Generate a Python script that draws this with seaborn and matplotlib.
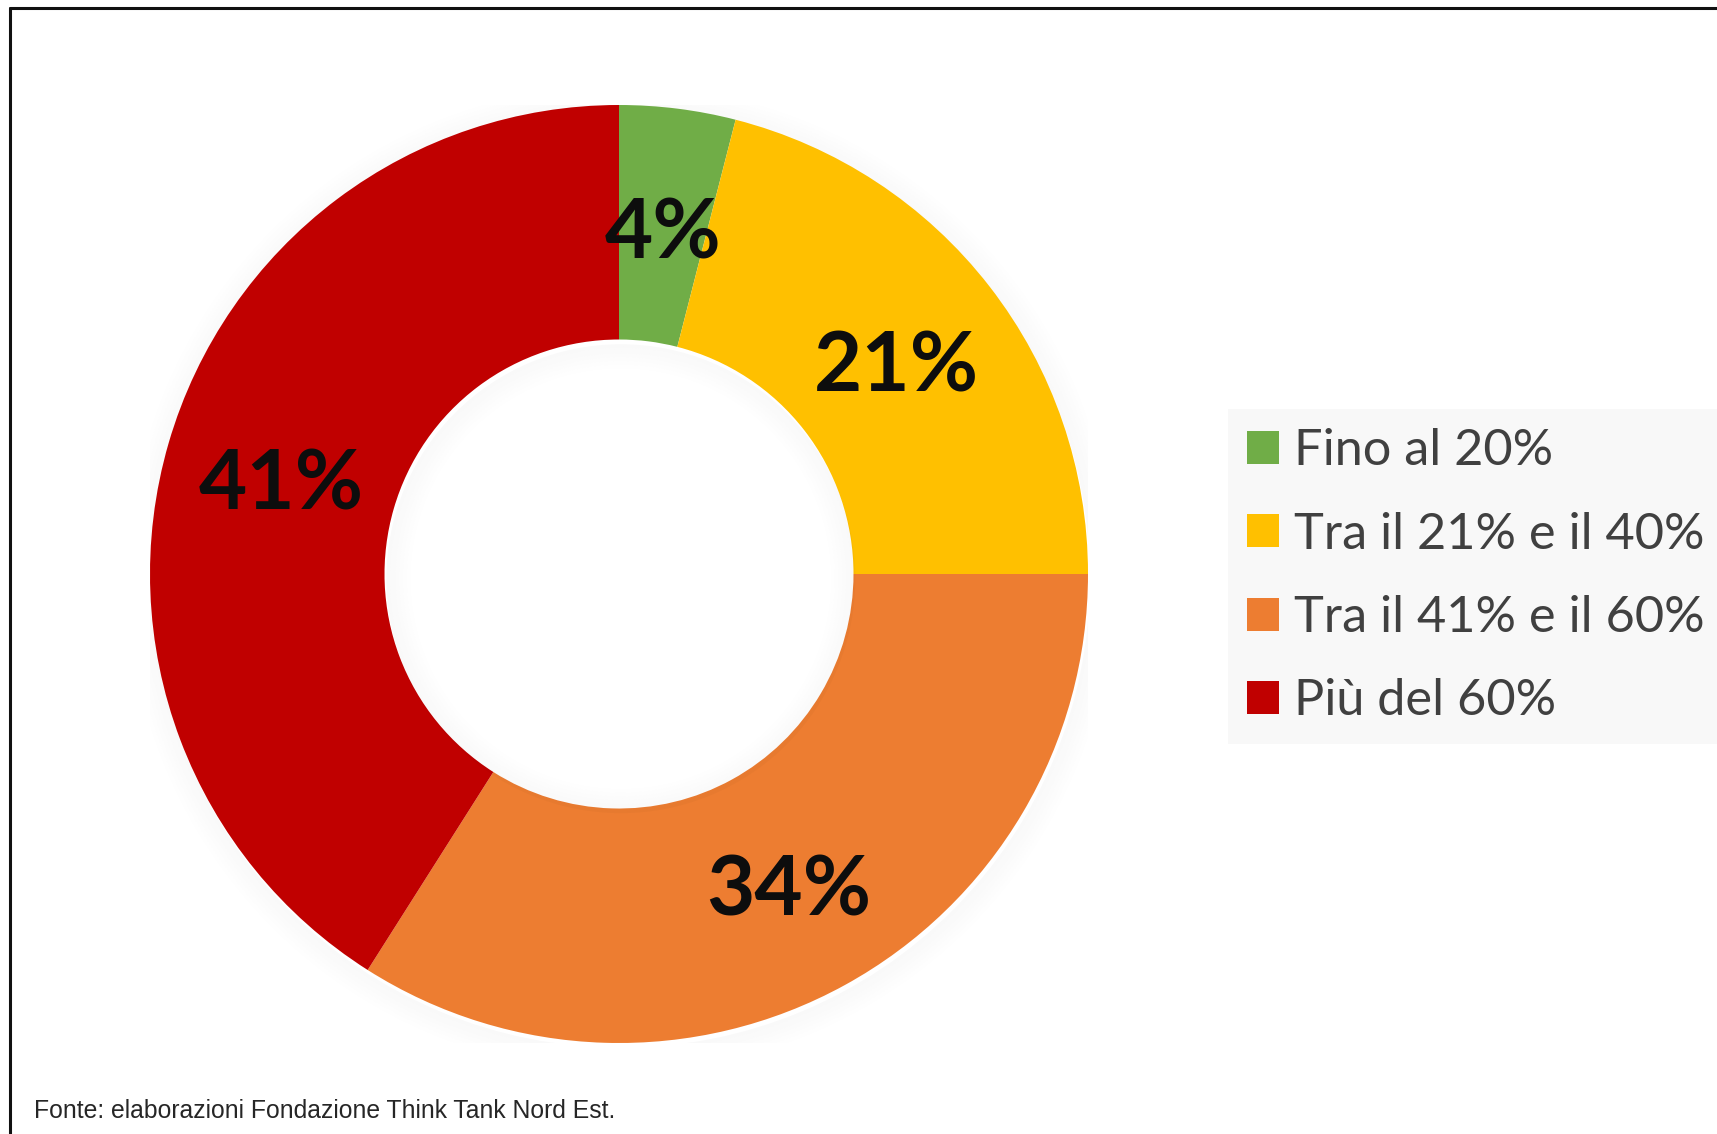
import matplotlib
matplotlib.use("Agg")
import matplotlib.pyplot as plt
import seaborn as sns
from matplotlib.patches import Wedge
from matplotlib.lines import Line2D

# dati
categorie = ["Fino al 20%", "Tra il 21% e il 40%", "Tra il 41% e il 60%", "Più del 60%"]
valori = [4, 21, 34, 41]
colori = ["#70AD47", "#FFC000", "#ED7D31", "#C00000"]
fonte = "Fonte: elaborazioni Fondazione Think Tank Nord Est."

sns.set_theme(style="white")
plt.rcParams['font.family'] = ['Lato', 'DejaVu Sans']

W, H = 1717, 1134
fig = plt.figure(figsize=(W / 100, H / 100), dpi=100)
fig.patch.set_facecolor("white")

# posizione della ciambella (in pixel)
cx, cy, r = 619, 574, 469
ax = fig.add_axes([(cx - r) / W, (H - cy - r) / H, 2 * r / W, 2 * r / H])

# ombra leggera attorno alla ciambella
for i in range(14):
    a = 0.025 * (1 - i / 14)
    ax.add_patch(Wedge((0.004, -0.01), 1.0 + 0.004 * (i + 1), 0, 360, width=0.004,
                       facecolor="black", alpha=a, linewidth=0, zorder=0))
    ax.add_patch(Wedge((0.004, -0.01), 0.5 - 0.004 * i, 0, 360, width=0.004,
                       facecolor="black", alpha=a, linewidth=0, zorder=3))

wedges, testi, autotesti = ax.pie(
    valori,
    colors=colori,
    startangle=90,
    counterclock=False,
    radius=1,
    autopct=lambda p: f"{p:.0f}%",
    pctdistance=0.75,
    wedgeprops=dict(width=0.5, linewidth=0),
    textprops=dict(color="#0d0d0d", fontsize=60, fontweight="bold"),
)
for w in wedges:
    w.set_zorder(2)
for t in autotesti:
    t.set_zorder(5)
    x, y = t.get_position()
    t.set_position((x, y - 0.021))
ax.set_xlim(-1, 1)
ax.set_ylim(-1, 1)
ax.axis("off")

# legenda
leg = fig.legend(
    wedges, categorie,
    loc="upper left",
    bbox_to_anchor=(1228 / W, 1 - 409 / H),
    frameon=True,
    fancybox=False,
    facecolor="#f8f8f8",
    edgecolor="none",
    framealpha=1,
    fontsize=36.4,
    handlelength=0.62,
    handleheight=0.62,
    handletextpad=0.3,
    labelspacing=0.74,
    borderpad=0.38,
    borderaxespad=0,
)
for t in leg.get_texts():
    t.set_color("#404040")

# fonte
fig.text(34 / W, 1 - 1111 / H, fonte, fontsize=17.8, color="#262626",
         family=["Liberation Sans", "DejaVu Sans"], va="center", ha="left")

# cornice (solo in alto e a sinistra)
fig.add_artist(Line2D([10 / W, 1], [1 - 8 / H, 1 - 8 / H], color="#111111", linewidth=2.2,
                      transform=fig.transFigure))
fig.add_artist(Line2D([10 / W, 10 / W], [0, 1 - 8 / H], color="#111111", linewidth=2.2,
                      transform=fig.transFigure))

fig.savefig("out.png", dpi=100)
plt.close(fig)
